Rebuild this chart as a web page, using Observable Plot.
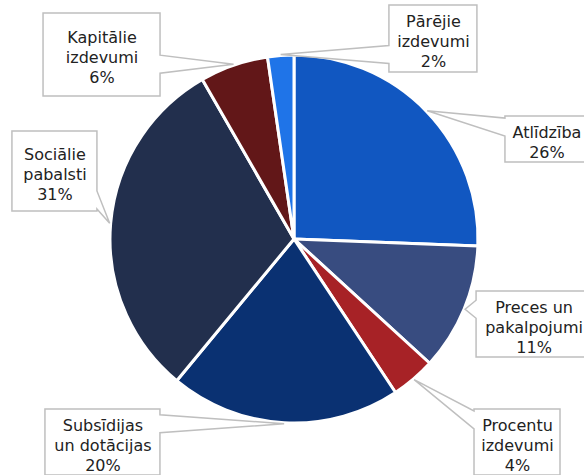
<!DOCTYPE html>
<html>
<head>
<meta charset="utf-8">
<script src="https://cdn.jsdelivr.net/npm/d3@7"></script>
<script src="https://cdn.jsdelivr.net/npm/@observablehq/plot@0.6"></script>
<style>
  html, body { margin: 0; padding: 0; background: #ffffff; }
  #chart svg { display: block; }
</style>
</head>
<body>
<div id="chart"></div>
<script>
// ---- data ----
const categories = [
  "Atlīdzība",
  "Preces un pakalpojumi",
  "Procentu izdevumi",
  "Subsīdijas un dotācijas",
  "Sociālie pabalsti",
  "Kapitālie izdevumi",
  "Pārējie izdevumi"
];
const values = [25.6, 11.2, 3.9, 20.3, 30.7, 6.0, 2.3];
const labelLines = [
  ["Atlīdzība"],
  ["Preces un", "pakalpojumi"],
  ["Procentu", "izdevumi"],
  ["Subsīdijas", "un dotācijas"],
  ["Sociālie", "pabalsti"],
  ["Kapitālie", "izdevumi"],
  ["Pārējie", "izdevumi"]
];
const colors = ["#1157c1", "#384c80", "#a72226", "#0a3172", "#222f4d", "#621718", "#1f74e8"];

// ---- layout (not data) ----
const W = 584, H = 475;
const CX = 294, CY = 239, R = 184;
// callout box centres in pie-radius units, box sizes in px
const labelLayout = [
  {ux: 1.372, uy: -0.543, w: 83, h: 46},
  {ux: 1.302, uy: 0.462, w: 115, h: 66},
  {ux: 1.212, uy: 1.103, w: 86, h: 66},
  {ux: -1.041, uy: 1.103, w: 115, h: 66},
  {ux: -1.302, uy: -0.370, w: 85, h: 80},
  {ux: -1.046, uy: -1.003, w: 117, h: 83},
  {ux: 0.755, uy: -1.090, w: 88, h: 67}
];

const rows = categories.map((c, i) => ({
  category: c,
  value: values[i],
  color: colors[i],
  text: [...labelLines[i], Math.round(values[i]) + "%"].join("\n"),
  ...labelLayout[i]
}));

const arcs = d3.pie().sort(null).value(d => d.value)(rows);

function sliceMark(index, scales) {
  const {x, y} = scales;
  const r = x(1) - x(0);
  const g = d3.create("svg:g").attr("transform", `translate(${x(0)},${y(0)})`);
  const arc = d3.arc().innerRadius(0).outerRadius(r);
  g.selectAll("path").data(arcs).join("path")
    .attr("d", arc)
    .attr("fill", d => d.data.color)
    .attr("stroke", "#ffffff")
    .attr("stroke-width", 3)
    .attr("stroke-linejoin", "round");
  return g.node();
}

function calloutMark(index, scales) {
  const {x, y} = scales;
  const r = x(1) - x(0);
  const g = d3.create("svg:g");
  arcs.forEach(a => {
    const d = a.data;
    const mid = (a.startAngle + a.endAngle) / 2;
    const tx = x(0) + Math.sin(mid) * (r + 1);
    const ty = y(0) - Math.cos(mid) * (r + 1);
    const bx = x(d.ux), by = y(d.uy);
    const x0 = bx - d.w / 2, x1 = bx + d.w / 2, y0 = by - d.h / 2, y1 = by + d.h / 2;
    const hw = 9, inset = 11;
    const pts = [[x0, y0]];
    if (ty < y0 && tx >= x0 && tx <= x1) {
      const c = Math.max(x0 + inset, Math.min(x1 - inset, tx));
      pts.push([c - hw, y0], [tx, ty], [c + hw, y0]);
    }
    pts.push([x1, y0]);
    if (tx > x1) {
      const c = Math.max(y0 + inset, Math.min(y1 - inset, ty));
      pts.push([x1, c - hw], [tx, ty], [x1, c + hw]);
    }
    pts.push([x1, y1]);
    if (ty > y1 && tx >= x0 && tx <= x1) {
      const c = Math.max(x0 + inset, Math.min(x1 - inset, tx));
      pts.push([c + hw, y1], [tx, ty], [c - hw, y1]);
    }
    pts.push([x0, y1]);
    if (tx < x0) {
      const c = Math.max(y0 + inset, Math.min(y1 - inset, ty));
      pts.push([x0, c + hw], [tx, ty], [x0, c - hw]);
    }
    g.append("path")
      .attr("d", "M" + pts.map(p => p.join(",")).join("L") + "Z")
      .attr("fill", "#ffffff")
      .attr("stroke", "#bfbfbf")
      .attr("stroke-width", 1.5)
      .attr("stroke-linejoin", "miter");
  });
  return g.node();
}

const chart = Plot.plot({
  width: W,
  height: H,
  margin: 0,
  style: {background: "#ffffff", fontFamily: "'DejaVu Sans', Verdana, sans-serif"},
  x: {domain: [-1, 1], range: [CX - R, CX + R], axis: null},
  y: {domain: [-1, 1], range: [CY - R, CY + R], axis: null},
  marks: [
    sliceMark,
    calloutMark,
    Plot.text(rows, {
      x: "ux",
      y: "uy",
      text: "text",
      dy: 2,
      fontSize: 16,
      lineHeight: 1.25,
      lineAnchor: "middle",
      textAnchor: "middle",
      fill: "#222222",
      fontFamily: "'DejaVu Sans', Verdana, sans-serif"
    })
  ]
});
document.getElementById("chart").appendChild(chart);
</script>
</body>
</html>
